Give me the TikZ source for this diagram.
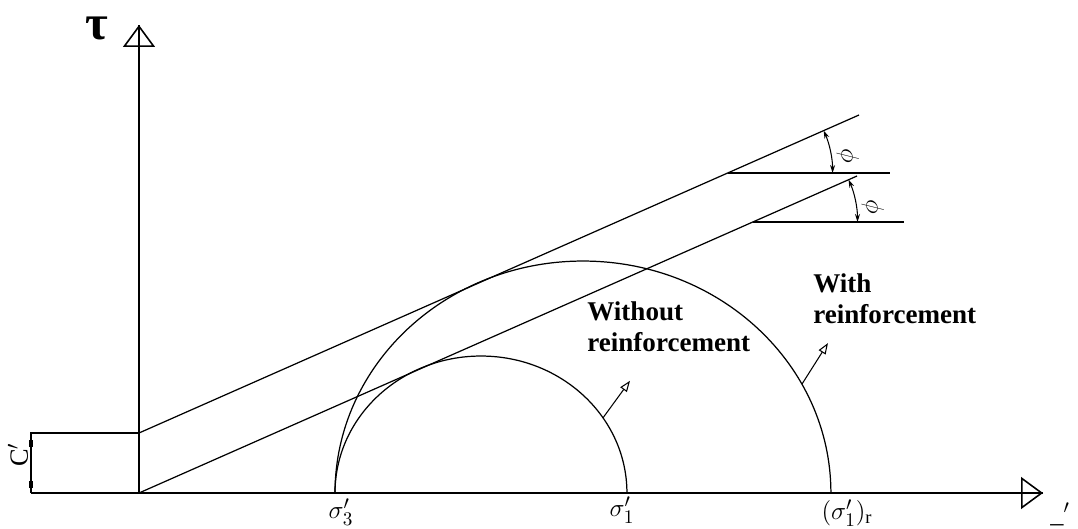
\documentclass[tikz,border=0pt]{standalone}
\usepackage{fontspec}
\setmainfont{Liberation Serif}
\usetikzlibrary{positioning, arrows.meta, calc}

\begin{document}
\begin{tikzpicture}[
    x=0.02cm, y=0.02cm,
    axisline/.style={line width=0.9pt},
    axistip/.style={line width=0.9pt, -{Triangle[open, length=0.44cm, width=0.64cm]}},
    envelope/.style={line width=0.7pt},
    mohr/.style={line width=0.7pt},
    pointer/.style={line width=0.6pt, -{Triangle[open, length=0.22cm, width=0.16cm]}},
    anglearc/.style={line width=0.6pt, {Stealth[length=0.16cm, width=0.1cm]}-{Stealth[length=0.16cm, width=0.1cm]}},
    lab/.style={font=\fontsize{15}{17}\selectfont, inner sep=0pt},
    taulab/.style={font=\fontsize{28}{28}\selectfont\bfseries, inner sep=0pt, text height=0.5em, text depth=0pt},
    note/.style={font=\fontsize{15.4}{17.6}\selectfont\bfseries, align=left, inner sep=0pt, anchor=west}
  ]
  \useasboundingbox (0,0) rectangle (1078,528);

  % Achsen
  \coordinate (O) at (139,35);
  \coordinate (taxis) at (139,503);
  \coordinate (left) at (31,35);
  \coordinate (saxis) at (1043,35);
  \draw[axisline] (O) -- (taxis);
  \draw[axistip] (O) -- (taxis);
  \draw[axisline] (left) -- (saxis);
  \draw[axistip] (left) -- (saxis);
  \node[taulab, anchor=base] (tau) at (97,488) {τ};
  \node[lab] (send) at (1060,14) {\textunderscore$'$};

  % Kohaesion c'
  \coordinate (c) at (139,95);
  \coordinate (cl) at (31,95);
  \draw[axisline] (left) -- (cl) -- (c);
  \draw[line width=2.2pt] (31,81) -- (31,88);
  \draw[line width=2.2pt] (31,40) -- (31,47);
  \node[lab, rotate=90] (clab) at (18,73) {C$'$};

  % Bruchgeraden
  \coordinate (u) at (859,413);
  \coordinate (l) at (857,352);
  \draw[envelope] (c) -- (u);
  \draw[envelope] (O) -- (l);

  % Horizontale und Winkel
  \coordinate (pu) at (727.6,355);
  \coordinate (hu) at (890,355);
  \coordinate (pl) at (752.5,306);
  \coordinate (hl) at (904,306);
  \draw[axisline] (pu) -- (hu);
  \draw[axisline] (pl) -- (hl);
  \draw[anglearc] ($(pu)+(23.83:105)$) arc[start angle=23.83, end angle=0, radius=2.1cm];
  \draw[anglearc] ($(pl)+(23.83:105)$) arc[start angle=23.83, end angle=0, radius=2.1cm];
  \node[lab, rotate=-90] (phiu) at (848,372) {$\phi$};
  \node[lab, rotate=-90] (phil) at (873,321) {$\phi$};

  % Mohrsche Kreise
  \coordinate (s3) at (335,35);
  \coordinate (s1) at (627,35);
  \coordinate (s1r) at (831,35);
  \draw[mohr] (s3) arc[start angle=180, end angle=0, x radius=2.92cm, y radius=2.74cm];
  \draw[mohr] (s3) arc[start angle=180, end angle=0, x radius=4.96cm, y radius=4.64cm];
  \node[lab] (ls3) at (341,16) {$\sigma'_3$};
  \node[lab] (ls1) at (622,18) {$\sigma'_1$};
  \node[lab] (ls1r) at (847,15) {$(\sigma'_1)_{\mathrm{r}}$};

  % Beschriftung mit Pfeilen
  \coordinate (m1) at ($(481,35)+(33.3:146 and 137)$);
  \coordinate (t1) at ($(m1)+(27,37)$);
  \coordinate (m2) at ($(583,35)+(28:248 and 232)$);
  \coordinate (t2) at ($(m2)+(26,41)$);
  \draw[pointer] (m1) -- (t1);
  \draw[pointer] (m2) -- (t2);
  \node[note] (without) at (587,201) {Without\\reinforcement};
  \node[note] (with) at (813,229) {With\\reinforcement};
\end{tikzpicture}
\end{document}
